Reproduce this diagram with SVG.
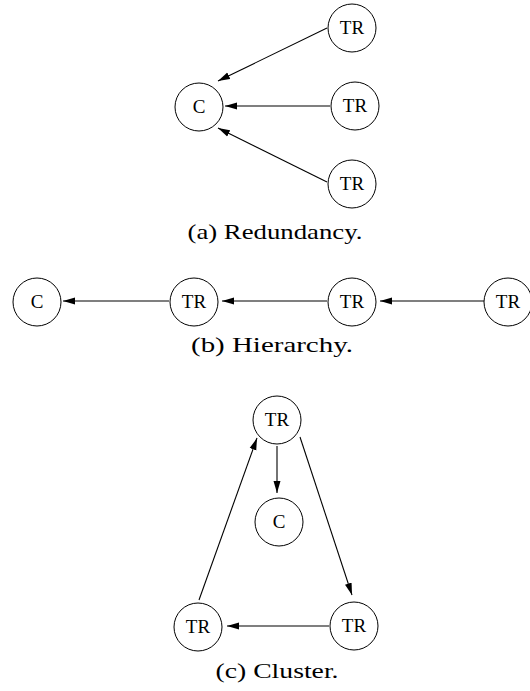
<svg xmlns="http://www.w3.org/2000/svg" width="530" height="691" viewBox="0 0 530 691">
<style>
.n circle{fill:#fff;stroke:#000;stroke-width:1}
.n text{font-family:"Liberation Serif",serif;font-size:19px;text-anchor:middle;fill:#000}
.e line{stroke:#000;stroke-width:1.1;marker-end:url(#ah)}
.cap{font-family:"Liberation Serif",serif;font-size:22px;text-anchor:middle;fill:#000}
</style>
<defs>
<marker id="ah" markerWidth="12" markerHeight="8" refX="12" refY="4" orient="auto" markerUnits="userSpaceOnUse">
<path d="M0,0.5 L12,4 L0,7.5 z" fill="#000"/>
</marker>
</defs>
<rect width="530" height="691" fill="#fff"/>
<g id="a-C" class="n"><circle cx="199" cy="107" r="24"/><text x="199" y="113">C</text></g>
<g id="a-TR1" class="n"><circle cx="352" cy="28" r="24"/><text x="352" y="34">TR</text></g>
<g id="a-TR2" class="n"><circle cx="355" cy="106" r="24"/><text x="355" y="112">TR</text></g>
<g id="a-TR3" class="n"><circle cx="352" cy="184" r="24"/><text x="352" y="190">TR</text></g>
<g id="b-C" class="n"><circle cx="37" cy="302" r="24"/><text x="37" y="308">C</text></g>
<g id="b-TR1" class="n"><circle cx="194" cy="302" r="24"/><text x="194" y="308">TR</text></g>
<g id="b-TR2" class="n"><circle cx="352" cy="302" r="24"/><text x="352" y="308">TR</text></g>
<g id="b-TR3" class="n"><circle cx="508" cy="302" r="24"/><text x="508" y="308">TR</text></g>
<g id="c-TRtop" class="n"><circle cx="277" cy="420" r="24"/><text x="277" y="426">TR</text></g>
<g id="c-C" class="n"><circle cx="279" cy="522" r="24"/><text x="279" y="528">C</text></g>
<g id="c-TRbl" class="n"><circle cx="198" cy="627" r="24"/><text x="198" y="633">TR</text></g>
<g id="c-TRbr" class="n"><circle cx="354" cy="626" r="24"/><text x="354" y="632">TR</text></g>
<g id="connectors" class="e">
<line x1="327" y1="28" x2="218" y2="81"/>
<line x1="330" y1="106" x2="225" y2="106"/>
<line x1="327" y1="182" x2="218" y2="128"/>
<line x1="169" y1="301" x2="63" y2="301"/>
<line x1="327" y1="301" x2="222" y2="301"/>
<line x1="484" y1="301" x2="380" y2="301"/>
<line x1="277" y1="446" x2="277" y2="493"/>
<line x1="199" y1="600" x2="257" y2="438"/>
<line x1="300" y1="437" x2="352" y2="595"/>
<line x1="329" y1="626" x2="227" y2="626"/>
</g>
<text class="cap" x="275" y="239" textLength="175" lengthAdjust="spacingAndGlyphs">(a) Redundancy.</text>
<text class="cap" x="272" y="352" textLength="162" lengthAdjust="spacingAndGlyphs">(b) Hierarchy.</text>
<text class="cap" x="277" y="678" textLength="123" lengthAdjust="spacingAndGlyphs">(c) Cluster.</text>
</svg>
